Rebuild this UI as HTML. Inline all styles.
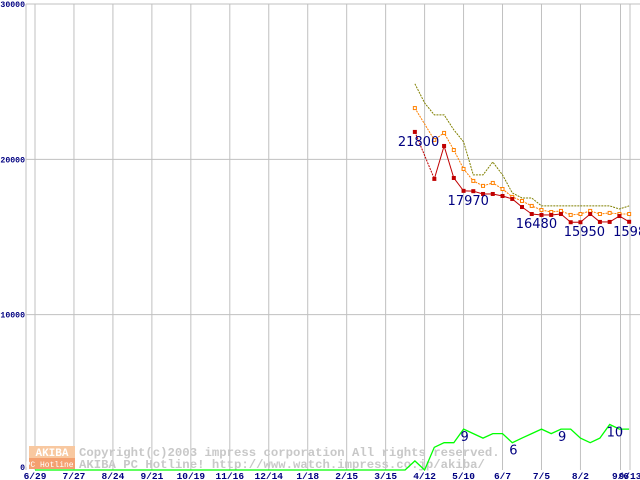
<!DOCTYPE html>
<html><head><meta charset="utf-8"><style>
html,body{margin:0;padding:0;background:#fff;}
svg{display:block;font-family:"Liberation Mono","DejaVu Sans Mono",monospace;}
</style></head><body>
<svg id="chart" width="640" height="480" viewBox="0 0 640 480" xmlns="http://www.w3.org/2000/svg">
<g id="grid"></g>
<g id="wm">
<rect x="29" y="446" width="46" height="12" fill="#f8c8a0"/>
<text x="52" y="456" font-size="11" fill="#fff" text-anchor="middle" font-weight="bold">AKIBA</text>
<rect x="29" y="458" width="46" height="11" fill="#f4a070"/>
<text x="52" y="467" font-size="8" fill="#fff" text-anchor="middle">PC Hotline!</text>
<text x="79" y="456" font-size="12.3" fill="#c8c8c8" font-weight="bold">Copyright(c)2003 impress corporation All rights reserved.</text>
<text x="79" y="468" font-size="12.3" fill="#c8c8c8" font-weight="bold">AKIBA PC Hotline! http://www.watch.impress.co.jp/akiba/</text>
</g>
<g id="series"></g>
<g id="labels"></g>
</svg>
<script>
const xTickLabels = ["6/29","7/27","8/24","9/21","10/19","11/16","12/14","1/18","2/15","3/15","4/12","5/10","6/7","7/5","8/2","9/6","9/13"];
const yTickValues = [0,10000,20000,30000];
const startWeek = 39;
const lowPrice = [21765,null,18740,20860,18800,17970,17950,17770,17770,17640,17450,16930,16480,16420,16420,16480,15950,15950,16480,15970,15970,16350,15980];
const avgPrice = [23300,null,21250,21700,20600,19380,18610,18290,18480,18090,17580,17320,17000,16740,16610,16680,16420,16480,16680,16480,16550,16480,16480];
const highPrice = [24860,23630,22860,22860,21900,21120,19000,19000,19830,19000,17840,17510,17510,17000,17000,17000,17000,17000,17000,17000,17000,16800,17000];
const shopCountTail = [0,2,0,5,6,6,9,8,7,8,8,6,7,8,9,8,9,9,7,6,7,10,9,9];
const priceLabels = [[0,"21800"],[5,"17970"],[12,"16480"],[16,"15950"],[22,"15980"]];
const countLabels = [[6,"9"],[11,"6"],[16,"9"],[21,"10"]];

const NS="http://www.w3.org/2000/svg";
const X0=35, WK=9.74, Y0=470, PY=466/30000, CY=4.55;
const xw=w=>X0+w*WK;
const yp=v=>Y0-v*PY;
const yc=n=>Y0-n*CY;
function mk(tag,attrs,parent){const e=document.createElementNS(NS,tag);for(const k in attrs)e.setAttribute(k,attrs[k]);parent.appendChild(e);return e;}
const grid=document.getElementById('grid'), ser=document.getElementById('series'), lab=document.getElementById('labels');
let l=mk('line',{x1:26,y1:4,x2:26,y2:470,stroke:'#c0c0c0'},grid);


l=mk('line',{x1:26,y1:4,x2:640,y2:4,stroke:'#c0c0c0'},grid);


xTickLabels.forEach((t,i)=>{
  let gx=i<15?xw(i*4):(i===15?620.5:630);
  const ln=mk('line',{x1:gx,y1:4,x2:gx,y2:470,stroke:'#c0c0c0'},grid);
  
  
  const tx=mk('text',{x:gx,y:479,'font-size':9.5,fill:'#000080','text-anchor':'middle','font-weight':'bold'},lab);
  tx.textContent=t;
  
  
});
yTickValues.forEach(v=>{
  const y=yp(v);
  if(v>0){const ln=mk('line',{x1:26,y1:y,x2:640,y2:y,stroke:'#c0c0c0'},grid);
  
  }
  const tx=mk('text',{x:25,y:y+(v===0?0:3),'font-size':8.2,fill:'#000080','text-anchor':'end','font-weight':'bold'},lab);
  tx.textContent=String(v);
  
  
});
function pathOf(arr,off,fy){let d='';arr.forEach((v,i)=>{if(v==null){return;}d+=(d?'L':'M')+xw(off+i).toFixed(1)+','+fy(v).toFixed(1);});return d;}
const shopCount=new Array(38).fill(0).concat(shopCountTail);
let p=mk('path',{d:pathOf(shopCount,0,yc),fill:'none',stroke:'#00ff00','stroke-width':1.3},ser);


p=mk('path',{d:pathOf(highPrice,startWeek,yp),fill:'none',stroke:'#808000','stroke-width':1,'stroke-dasharray':'2,1'},ser);


p=mk('path',{d:pathOf(avgPrice,startWeek,yp),fill:'none',stroke:'#ff8000','stroke-width':1,'stroke-dasharray':'2,1'},ser);


let prev=null;
lowPrice.forEach((v,i)=>{
  if(v==null)return;
  if(prev!==null){
    const seg=mk('line',{x1:xw(startWeek+prev),y1:yp(lowPrice[prev]),x2:xw(startWeek+i),y2:yp(v),stroke:'#c00000','stroke-width':1},ser);
    if(i-prev>1)seg.setAttribute('stroke-dasharray','2,1');
    
    
  }
  prev=i;
});
avgPrice.forEach((v,i)=>{if(v==null)return;
  const r=mk('rect',{x:xw(startWeek+i)-1.5,y:yp(v)-1.5,width:3,height:3,fill:'#fff',stroke:'#ff8000','stroke-width':1},ser);
  
  });
lowPrice.forEach((v,i)=>{if(v==null)return;
  const r=mk('rect',{x:xw(startWeek+i)-2,y:yp(v)-2,width:4,height:4,fill:'#c00000'},ser);
  
  });
priceLabels.forEach(([i,t])=>{
  const off=i===0?-17:(i===16?-7:-16);
  const tx=mk('text',{x:xw(startWeek+i)+off,y:yp(lowPrice[i])+14,'font-size':13,fill:'#000080','font-family':'"DejaVu Sans",sans-serif'},lab);
  tx.textContent=t;
  
  });
countLabels.forEach(([i,t])=>{
  const tx=mk('text',{x:xw(38+i)-3,y:yc(shopCountTail[i])+12,'font-size':13,fill:'#000080','font-family':'"DejaVu Sans",sans-serif'},lab);
  tx.textContent=t;
  
  });
</script>
</body></html>
